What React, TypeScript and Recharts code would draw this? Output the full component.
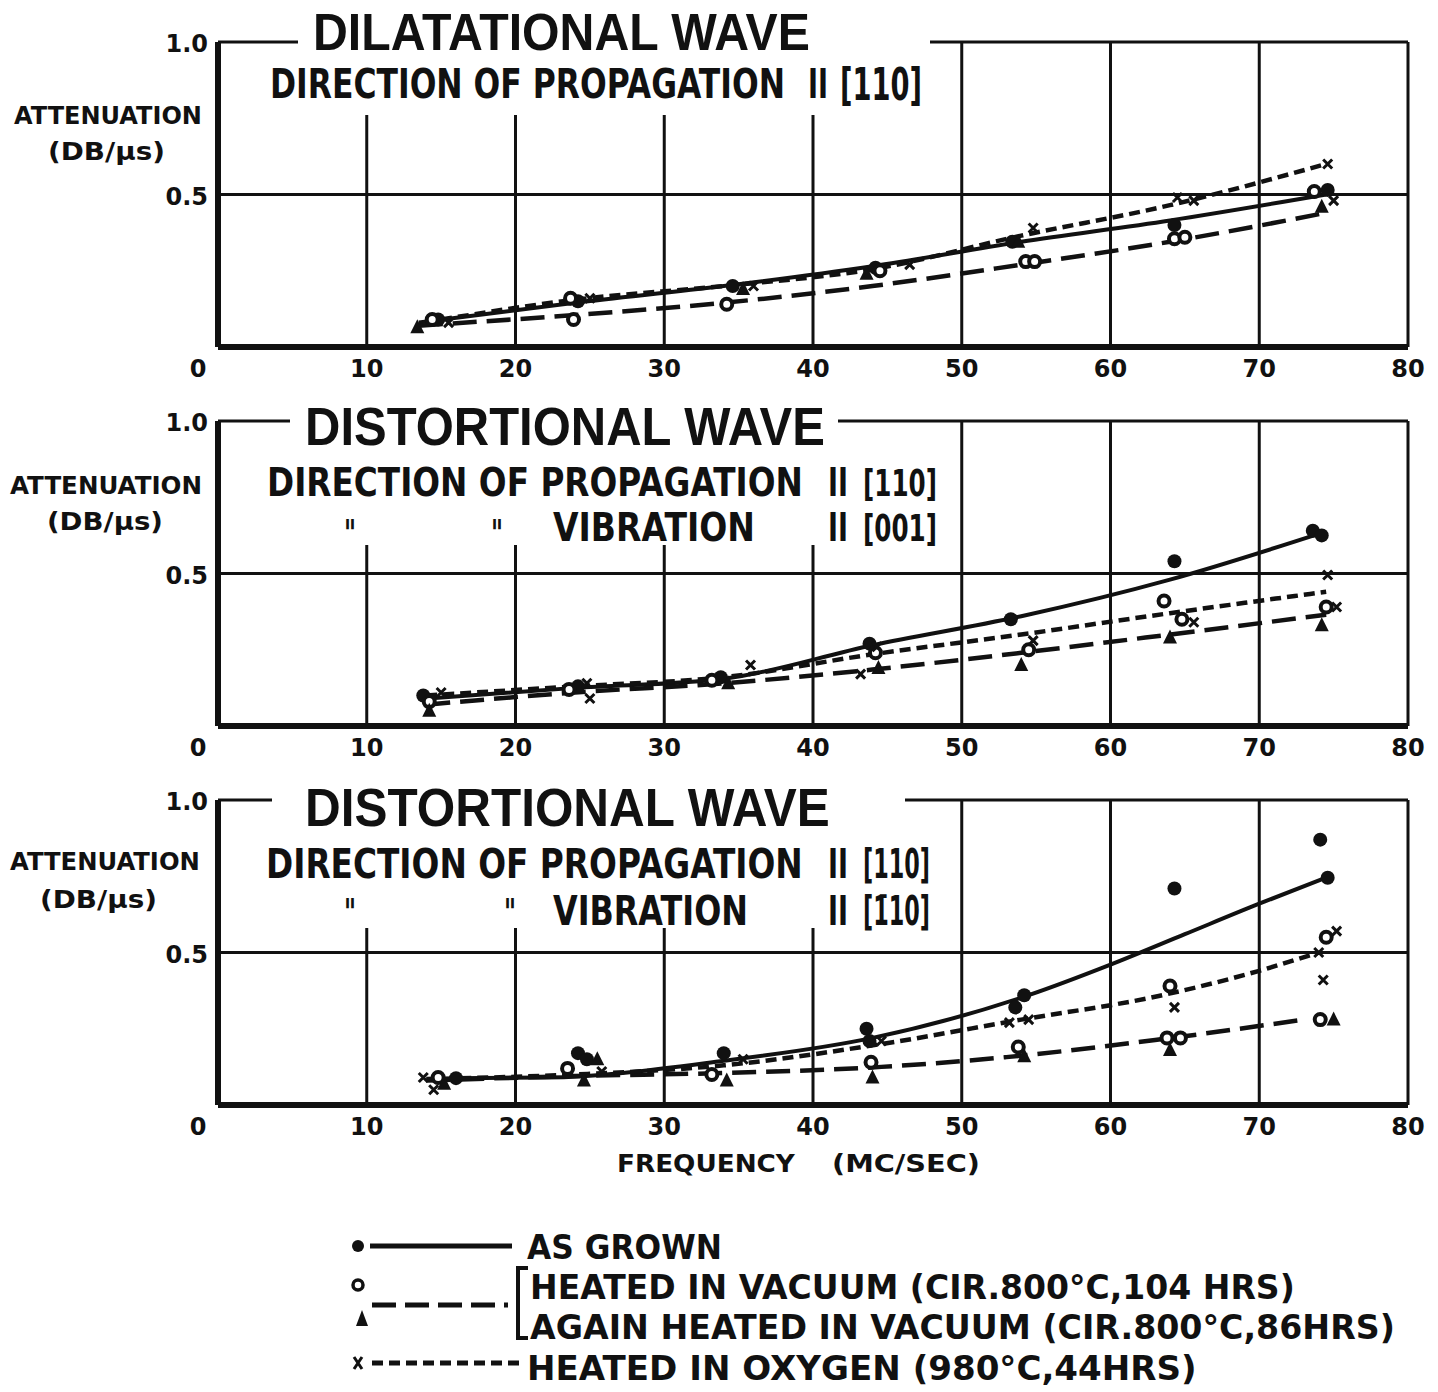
import React, { useLayoutEffect, useRef, useState } from "react";
import { ComposedChart, Line, Scatter, XAxis, YAxis, CartesianGrid } from "recharts";

type Pt = { f: number; v: number };

const xTicks = [0, 10, 20, 30, 40, 50, 60, 70, 80];
const yTicks = [0.5, 1];
const gridX = [10, 20, 30, 40, 50, 60, 70, 80];
const gridY = [0.5, 1];

// panel 1: dilatational wave, measured points
const p1Grown: Pt[] = [
  { f: 14.8, v: 0.09 }, { f: 24.2, v: 0.15 }, { f: 34.6, v: 0.2 }, { f: 44.2, v: 0.26 },
  { f: 53.4, v: 0.345 }, { f: 64.3, v: 0.4 }, { f: 74.6, v: 0.515 },
];
const p1Vacuum: Pt[] = [
  { f: 14.4, v: 0.09 }, { f: 23.9, v: 0.09 }, { f: 23.7, v: 0.16 }, { f: 34.2, v: 0.14 },
  { f: 44.5, v: 0.25 }, { f: 54.3, v: 0.28 }, { f: 54.9, v: 0.28 }, { f: 64.3, v: 0.355 },
  { f: 65.0, v: 0.36 }, { f: 73.7, v: 0.51 },
];
const p1Again: Pt[] = [
  { f: 13.4, v: 0.065 }, { f: 35.3, v: 0.19 }, { f: 43.6, v: 0.24 }, { f: 53.8, v: 0.345 }, { f: 74.2, v: 0.46 },
];
const p1Oxygen: Pt[] = [
  { f: 15.5, v: 0.08 }, { f: 25.0, v: 0.16 }, { f: 36.0, v: 0.2 }, { f: 46.5, v: 0.27 }, { f: 54.8, v: 0.39 },
  { f: 64.5, v: 0.49 }, { f: 65.6, v: 0.48 }, { f: 74.6, v: 0.6 }, { f: 75.0, v: 0.48 },
];
// panel 1 drawn curves
const c1Grown: Pt[] = [
  { f: 13.5, v: 0.08 }, { f: 24, v: 0.145 }, { f: 34, v: 0.2 }, { f: 44, v: 0.265 },
  { f: 54, v: 0.345 }, { f: 64, v: 0.415 }, { f: 74.5, v: 0.5 },
];
const c1Vacuum: Pt[] = [
  { f: 13.5, v: 0.07 }, { f: 24, v: 0.105 }, { f: 34, v: 0.145 }, { f: 44, v: 0.2 },
  { f: 54, v: 0.27 }, { f: 64, v: 0.345 }, { f: 74.5, v: 0.44 },
];
const c1Oxygen: Pt[] = [
  { f: 15, v: 0.09 }, { f: 24, v: 0.155 }, { f: 34, v: 0.2 }, { f: 44, v: 0.255 },
  { f: 54, v: 0.365 }, { f: 64, v: 0.465 }, { f: 74.5, v: 0.6 },
];

// panel 2: distortional wave, vibration || [001]
const p2Grown: Pt[] = [
  { f: 13.8, v: 0.1 }, { f: 24.2, v: 0.13 }, { f: 33.8, v: 0.16 }, { f: 43.8, v: 0.27 },
  { f: 53.3, v: 0.35 }, { f: 64.3, v: 0.54 }, { f: 73.6, v: 0.64 }, { f: 74.2, v: 0.625 },
];
const p2Vacuum: Pt[] = [
  { f: 14.2, v: 0.08 }, { f: 23.6, v: 0.12 }, { f: 33.2, v: 0.15 }, { f: 44.2, v: 0.24 },
  { f: 54.5, v: 0.25 }, { f: 63.6, v: 0.41 }, { f: 64.8, v: 0.35 }, { f: 74.5, v: 0.39 },
];
const p2Again: Pt[] = [
  { f: 14.2, v: 0.05 }, { f: 34.3, v: 0.14 }, { f: 44.4, v: 0.19 }, { f: 54.0, v: 0.2 },
  { f: 64.0, v: 0.29 }, { f: 74.2, v: 0.33 },
];
const p2Oxygen: Pt[] = [
  { f: 15.0, v: 0.11 }, { f: 24.8, v: 0.14 }, { f: 25.0, v: 0.09 }, { f: 35.8, v: 0.2 },
  { f: 43.2, v: 0.17 }, { f: 44.3, v: 0.26 }, { f: 54.8, v: 0.28 }, { f: 65.6, v: 0.34 },
  { f: 74.6, v: 0.495 }, { f: 75.2, v: 0.39 },
];
const c2Grown: Pt[] = [
  { f: 14, v: 0.09 }, { f: 24, v: 0.125 }, { f: 34, v: 0.155 }, { f: 44, v: 0.265 },
  { f: 54, v: 0.36 }, { f: 64, v: 0.48 }, { f: 74, v: 0.63 },
];
const c2Vacuum: Pt[] = [
  { f: 14, v: 0.07 }, { f: 24, v: 0.11 }, { f: 34, v: 0.14 }, { f: 44, v: 0.185 },
  { f: 54, v: 0.24 }, { f: 64, v: 0.3 }, { f: 74.5, v: 0.365 },
];
const c2Oxygen: Pt[] = [
  { f: 14, v: 0.1 }, { f: 24, v: 0.13 }, { f: 34, v: 0.16 }, { f: 44, v: 0.235 },
  { f: 54, v: 0.3 }, { f: 64, v: 0.37 }, { f: 74.5, v: 0.44 },
];

// panel 3: distortional wave, vibration || [-110]
const p3Grown: Pt[] = [
  { f: 16.0, v: 0.088 }, { f: 24.2, v: 0.17 }, { f: 24.8, v: 0.15 }, { f: 34.0, v: 0.17 },
  { f: 43.6, v: 0.25 }, { f: 43.8, v: 0.21 }, { f: 54.2, v: 0.36 }, { f: 53.6, v: 0.32 },
  { f: 64.3, v: 0.71 }, { f: 74.1, v: 0.87 }, { f: 74.6, v: 0.745 },
];
const p3Vacuum: Pt[] = [
  { f: 14.8, v: 0.09 }, { f: 23.5, v: 0.12 }, { f: 33.2, v: 0.1 }, { f: 43.9, v: 0.14 },
  { f: 53.8, v: 0.19 }, { f: 64.0, v: 0.39 }, { f: 63.8, v: 0.22 }, { f: 64.7, v: 0.22 },
  { f: 74.1, v: 0.28 }, { f: 74.5, v: 0.55 },
];
const p3Again: Pt[] = [
  { f: 15.2, v: 0.07 }, { f: 24.6, v: 0.08 }, { f: 25.5, v: 0.15 }, { f: 34.2, v: 0.08 },
  { f: 44.0, v: 0.09 }, { f: 54.2, v: 0.16 }, { f: 64.0, v: 0.18 }, { f: 75.0, v: 0.28 },
];
const p3Oxygen: Pt[] = [
  { f: 13.8, v: 0.09 }, { f: 14.5, v: 0.05 }, { f: 25.8, v: 0.11 }, { f: 35.3, v: 0.15 },
  { f: 44.6, v: 0.21 }, { f: 53.2, v: 0.27 }, { f: 54.5, v: 0.28 }, { f: 64.3, v: 0.32 },
  { f: 75.2, v: 0.57 }, { f: 74.0, v: 0.5 }, { f: 74.3, v: 0.41 },
];
const c3Grown: Pt[] = [
  { f: 16, v: 0.088 }, { f: 22, v: 0.09 }, { f: 34, v: 0.145 }, { f: 44, v: 0.22 },
  { f: 54.5, v: 0.36 }, { f: 60, v: 0.46 }, { f: 65, v: 0.56 }, { f: 70, v: 0.66 }, { f: 74.2, v: 0.74 },
];
const c3Vacuum: Pt[] = [
  { f: 14, v: 0.08 }, { f: 24, v: 0.095 }, { f: 34, v: 0.105 }, { f: 44.6, v: 0.125 },
  { f: 53, v: 0.157 }, { f: 63, v: 0.213 }, { f: 73, v: 0.28 },
];
const c3Oxygen: Pt[] = [
  { f: 14, v: 0.085 }, { f: 24, v: 0.1 }, { f: 34, v: 0.13 }, { f: 44.6, v: 0.2 },
  { f: 54, v: 0.28 }, { f: 63, v: 0.355 }, { f: 70, v: 0.44 }, { f: 74, v: 0.5 },
];

const INK = "#111";
const FONT = "'DejaVu Sans', sans-serif";
const TITLE = "'Liberation Sans', Arial, sans-serif";

const filledDot = (p: any) => <circle cx={p.cx} cy={p.cy} r={7} fill={INK} />;
const openDot = (p: any) => <circle cx={p.cx} cy={p.cy} r={5.5} fill="#fff" stroke={INK} strokeWidth={4} />;
const triangle = (p: any) => (
  <polygon points={`${p.cx},${p.cy - 8} ${p.cx - 7},${p.cy + 6} ${p.cx + 7},${p.cy + 6}`} fill={INK} />
);
const cross = (p: any) => (
  <path d={`M${p.cx - 4.5},${p.cy - 4.5}L${p.cx + 4.5},${p.cy + 4.5}M${p.cx + 4.5},${p.cy - 4.5}L${p.cx - 4.5},${p.cy + 4.5}`} stroke={INK} strokeWidth={3} />
);

const XTick = (p: any) => (
  <text x={p.payload.value === 0 ? p.x - 20 : p.x} y={p.y + 22} textAnchor="middle" fontFamily={FONT} fontWeight="bold" fontSize={24} fill={INK}>
    {p.payload.value}
  </text>
);
const YTick = (p: any) => (
  <text x={p.x - 2} y={p.y + 10} textAnchor="end" fontFamily={FONT} fontWeight="bold" fontSize={24} fill={INK}>
    {p.payload.value === 1 ? "1.0" : "0.5"}
  </text>
);

interface PanelProps {
  top: number;
  grown: Pt[]; vacuum: Pt[]; again: Pt[]; oxygen: Pt[];
  cGrown: Pt[]; cVacuum: Pt[]; cOxygen: Pt[];
}

function Panel({ top, grown, vacuum, again, oxygen, cGrown, cVacuum, cOxygen }: PanelProps) {
  return (
    <div style={{ position: "absolute", left: 0, top }}>
      <ComposedChart width={1438} height={390} margin={{ top: 42, right: 30, bottom: 3, left: 168 }}>
        <CartesianGrid stroke={INK} strokeWidth={3} horizontalValues={gridY} verticalValues={gridX} />
        <XAxis type="number" dataKey="f" domain={[0, 80]} ticks={xTicks} tick={XTick} tickLine={false}
          axisLine={{ stroke: INK, strokeWidth: 6 }} height={40} allowDataOverflow />
        <YAxis type="number" dataKey="v" domain={[0, 1]} ticks={yTicks} tick={YTick} tickLine={false}
          axisLine={{ stroke: INK, strokeWidth: 6 }} width={50} allowDataOverflow />
        <Line data={cGrown} dataKey="v" type="monotone" stroke={INK} strokeWidth={4} dot={false} isAnimationActive={false} />
        <Line data={cVacuum} dataKey="v" type="monotone" stroke={INK} strokeWidth={4.5} strokeDasharray="24 10" dot={false} isAnimationActive={false} />
        <Line data={cOxygen} dataKey="v" type="monotone" stroke={INK} strokeWidth={4.5} strokeDasharray="11 6" dot={false} isAnimationActive={false} />
        <Scatter data={grown} dataKey="v" shape={filledDot} isAnimationActive={false} />
        <Scatter data={vacuum} dataKey="v" shape={openDot} isAnimationActive={false} />
        <Scatter data={again} dataKey="v" shape={triangle} isAnimationActive={false} />
        <Scatter data={oxygen} dataKey="v" shape={cross} isAnimationActive={false} />
      </ComposedChart>
    </div>
  );
}

// text squeezed horizontally to a given width (the scan's lettering is condensed)
function T({ x, y, w, s, ff, fw, children }: any) {
  const ref = useRef<SVGTextElement>(null);
  const [k, setK] = useState(1);
  useLayoutEffect(() => {
    if (ref.current) {
      const n = ref.current.getComputedTextLength();
      if (n > 0) setK(w / n);
    }
  }, [w, children]);
  return (
    <g transform={`translate(${x},${y}) scale(${k},1)`}>
      <text ref={ref} x={0} y={0} fontSize={s} fontFamily={ff || FONT} fontWeight={fw || "bold"} fill={INK}>
        {children}
      </text>
    </g>
  );
}

function Overlay() {
  return (
    <svg width={1438} height={1392} style={{ position: "absolute", left: 0, top: 0 }}>
      {/* blank areas behind the titles */}
      <rect x={298} y={20} width={632} height={45} fill="#fff" />
      <rect x={258} y={60} width={672} height={55} fill="#fff" />
      <rect x={290} y={395} width={548} height={60} fill="#fff" />
      <rect x={258} y={450} width={688} height={95} fill="#fff" />
      <rect x={272} y={775} width={633} height={60} fill="#fff" />
      <rect x={258} y={830} width={678} height={98} fill="#fff" />

      {/* panel 1 */}
      <T x={313} y={50} w={497} s={52} ff={TITLE}>DILATATIONAL WAVE</T>
      <T x={270} y={98} w={515} s={40}>DIRECTION OF PROPAGATION</T>
      <T x={808} y={98} w={20} s={40}>II</T>
      <T x={840} y={100} w={82} s={44}>[110]</T>
      <T x={14} y={124} w={188} s={25}>ATTENUATION</T>
      <T x={48} y={160} w={117} s={25}>(DB/μs)</T>

      {/* panel 2 */}
      <T x={305} y={445} w={520} s={54} ff={TITLE}>DISTORTIONAL WAVE</T>
      <T x={267} y={496} w={536} s={39}>DIRECTION OF PROPAGATION</T>
      <T x={828} y={496} w={20} s={39}>II</T>
      <T x={863} y={496} w={74} s={38}>[110]</T>
      <T x={344} y={546} w={12} s={38}>"</T>
      <T x={491} y={546} w={12} s={38}>"</T>
      <T x={553} y={541} w={202} s={39}>VIBRATION</T>
      <T x={828} y={541} w={20} s={39}>II</T>
      <T x={863} y={541} w={74} s={38}>[001]</T>
      <T x={10} y={494} w={192} s={25}>ATTENUATION</T>
      <T x={47} y={530} w={116} s={25}>(DB/μs)</T>

      {/* panel 3 */}
      <T x={305} y={826} w={525} s={54} ff={TITLE}>DISTORTIONAL WAVE</T>
      <T x={266} y={878} w={537} s={40}>DIRECTION OF PROPAGATION</T>
      <T x={828} y={878} w={20} s={40}>II</T>
      <T x={863} y={878} w={67} s={40}>[110]</T>
      <T x={344} y={925} w={12} s={38}>"</T>
      <T x={504} y={925} w={12} s={38}>"</T>
      <T x={553} y={925} w={195} s={40}>VIBRATION</T>
      <T x={828} y={925} w={20} s={40}>II</T>
      <T x={863} y={925} w={67} s={40}>[1̄10]</T>
      <T x={10} y={870} w={190} s={25}>ATTENUATION</T>
      <T x={40} y={908} w={117} s={25}>(DB/μs)</T>

      <T x={617} y={1172} w={178} s={25}>FREQUENCY</T>
      <T x={832} y={1172} w={148} s={25}>(MC/SEC)</T>

      {/* legend */}
      <circle cx={358} cy={1246} r={6} fill={INK} />
      <line x1={370} y1={1246} x2={512} y2={1246} stroke={INK} strokeWidth={5} />
      <T x={527} y={1259} w={195} s={34}>AS GROWN</T>
      <circle cx={358} cy={1285} r={5} fill="#fff" stroke={INK} strokeWidth={3.5} />
      <polygon points="362,1310 356,1326 368,1326" fill={INK} />
      <line x1={372} y1={1305} x2={508} y2={1305} stroke={INK} strokeWidth={5} strokeDasharray="24 9" />
      <path d="M528,1268 H518 V1338 H528" fill="none" stroke={INK} strokeWidth={4} />
      <T x={530} y={1299} w={765} s={34}>HEATED IN VACUUM (CIR.800°C,104 HRS)</T>
      <T x={530} y={1339} w={865} s={34}>AGAIN HEATED IN VACUUM (CIR.800°C,86HRS)</T>
      <path d="M354,1357 L362,1369 M362,1357 L354,1369" stroke={INK} strokeWidth={3} />
      <line x1={372} y1={1363} x2={522} y2={1363} stroke={INK} strokeWidth={5} strokeDasharray="11 6" />
      <T x={527} y={1380} w={670} s={34}>HEATED IN OXYGEN (980°C,44HRS)</T>
    </svg>
  );
}

export default function App() {
  return (
    <div style={{ position: "absolute", left: 0, top: 0, width: 1438, height: 1392, background: "#fff" }}>
      <Panel top={0} grown={p1Grown} vacuum={p1Vacuum} again={p1Again} oxygen={p1Oxygen}
        cGrown={c1Grown} cVacuum={c1Vacuum} cOxygen={c1Oxygen} />
      <Panel top={379} grown={p2Grown} vacuum={p2Vacuum} again={p2Again} oxygen={p2Oxygen}
        cGrown={c2Grown} cVacuum={c2Vacuum} cOxygen={c2Oxygen} />
      <Panel top={758} grown={p3Grown} vacuum={p3Vacuum} again={p3Again} oxygen={p3Oxygen}
        cGrown={c3Grown} cVacuum={c3Vacuum} cOxygen={c3Oxygen} />
      <Overlay />
    </div>
  );
}
